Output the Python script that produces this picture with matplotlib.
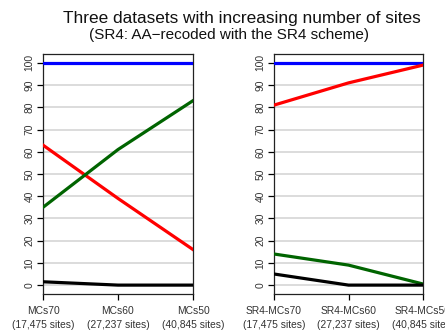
import matplotlib
matplotlib.use("Agg")
import matplotlib.pyplot as plt

plt.rcParams["font.family"] = ["Liberation Sans", "DejaVu Sans"]

positions = [1, 2, 3]
left_labels = ["MCs70\n(17,475 sites)", "MCs60\n(27,237 sites)", "MCs50\n(40,845 sites)"]
right_labels = ["SR4-MCs70\n(17,475 sites)", "SR4-MCs60\n(27,237 sites)", "SR4-MCs50\n(40,845 sites)"]
y_ticks = list(range(0, 101, 10))

# left panel (amino acids)
left_blue = [100, 100, 100]
left_red = [63, 39, 16]
left_green = [35, 61, 83]
left_black = [1.5, 0, 0]

# right panel (SR4 recoded)
right_blue = [100, 100, 100]
right_red = [81, 91, 99]
right_green = [14, 9, 0.5]
right_black = [5, 0, 0]

W, H = 445, 331
fig = plt.figure(figsize=(W / 100, H / 100), dpi=100)


def panel(rect, labels, blue, red, green, black):
    ax = fig.add_axes(rect)
    for y in y_ticks:
        ax.axhline(y, color="#dcdcdc", lw=1.4, zorder=1)
    ax.plot(positions, blue, color="#0000ff", lw=2.3, zorder=3)
    ax.plot(positions, red, color="#ff0000", lw=2.3, zorder=3)
    ax.plot(positions, green, color="#006400", lw=2.3, zorder=3)
    ax.plot(positions, black, color="black", lw=2.3, zorder=4)
    ax.set_xlim(1, 3)
    ax.set_ylim(-4, 104)
    ax.set_xticks(positions)
    ax.set_xticklabels(labels, fontsize=7.4, color="#333333", linespacing=1.5)
    ax.set_yticks(y_ticks)
    ax.set_yticklabels([str(v) for v in y_ticks], fontsize=7.4, color="#333333",
                       rotation=90, va="center")
    ax.tick_params(axis="both", length=4, width=0.9, direction="out", pad=2)
    ax.tick_params(axis="x", pad=5)
    for s in ax.spines.values():
        s.set_linewidth(0.9)
        s.set_color("#222222")
    return ax


panel([43 / W, (H - 294) / H, 150 / W, 240 / H], left_labels,
      left_blue, left_red, left_green, left_black)
panel([274 / W, (H - 294) / H, 149 / W, 240 / H], right_labels,
      right_blue, right_red, right_green, right_black)

fig.text(242 / W, 1 - 19 / H, "Three datasets with increasing number of sites",
         ha="center", va="center", fontsize=12.4, color="#111111")
fig.text(229 / W, 1 - 35 / H, "(SR4: AA\u2212recoded with the SR4 scheme)",
         ha="center", va="center", fontsize=11, color="#111111")

fig.savefig("out.png", dpi=100)
